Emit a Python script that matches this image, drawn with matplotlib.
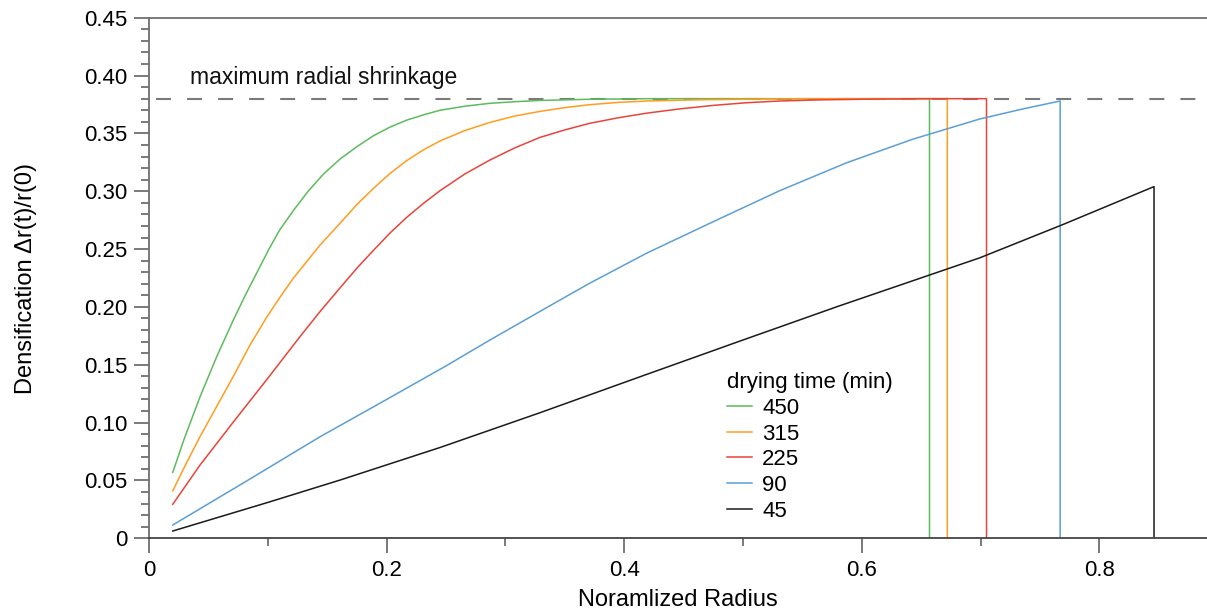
import numpy as np
import matplotlib
matplotlib.use("Agg")
import matplotlib.pyplot as plt
from matplotlib.ticker import FixedLocator, FixedFormatter, MultipleLocator

plt.rcParams['font.family'] = ['Liberation Sans', 'DejaVu Sans']

# ---- data ----
labels = ["450", "315", "225", "90", "45"]
colors = ["#5dbb5d", "#ff9d1f", "#e8443a", "#5b9fd4", "#1a1a1a"]

x_450 = [0.02, 0.03, 0.043, 0.057, 0.071, 0.082, 0.092, 0.101, 0.110, 0.122, 0.134, 0.147,
         0.161, 0.175, 0.189, 0.203, 0.217, 0.231, 0.245, 0.266, 0.287, 0.31, 0.33, 0.371,
         0.42, 0.657]
y_450 = [0.057, 0.087, 0.1224, 0.157, 0.1887, 0.212, 0.232, 0.250, 0.2665, 0.284, 0.300, 0.315,
         0.328, 0.3385, 0.348, 0.3555, 0.3615, 0.366, 0.370, 0.3735, 0.376, 0.3775, 0.3785, 0.3795,
         0.380, 0.380]

x_315 = [0.02, 0.03, 0.043, 0.057, 0.071, 0.085, 0.099, 0.111, 0.122, 0.133, 0.144, 0.161,
         0.175, 0.189, 0.203, 0.217, 0.231, 0.245, 0.266, 0.287, 0.308, 0.329, 0.35, 0.371,
         0.395, 0.42, 0.46, 0.5, 0.55, 0.672]
y_315 = [0.041, 0.062, 0.088, 0.114, 0.140, 0.167, 0.191, 0.2095, 0.2255, 0.2395, 0.2535, 0.2725,
         0.2885, 0.3025, 0.3155, 0.3265, 0.3358, 0.3435, 0.3525, 0.3595, 0.365, 0.369, 0.3723, 0.3748,
         0.3768, 0.378, 0.379, 0.3795, 0.380, 0.380]

x_225 = [0.02, 0.043, 0.071, 0.099, 0.127, 0.144, 0.16, 0.175, 0.189, 0.203, 0.217, 0.231,
         0.245, 0.266, 0.287, 0.308, 0.329, 0.35, 0.371, 0.395, 0.419, 0.447, 0.475, 0.503,
         0.531, 0.565, 0.6, 0.65, 0.705]
y_225 = [0.0294, 0.0634, 0.1005, 0.137, 0.1742, 0.196, 0.2155, 0.2335, 0.249, 0.264, 0.2775, 0.2895,
         0.3005, 0.315, 0.327, 0.3375, 0.3465, 0.353, 0.3587, 0.3635, 0.3675, 0.3712, 0.3742, 0.3765,
         0.378, 0.379, 0.3795, 0.380, 0.380]

x_90 = [0.02, 0.0836, 0.144, 0.2, 0.25, 0.287, 0.346, 0.371, 0.419, 0.475, 0.531, 0.587,
        0.643, 0.6995, 0.735, 0.767]
y_90 = [0.0115, 0.0504, 0.0878, 0.120, 0.149, 0.1714, 0.206, 0.2205, 0.2465, 0.2737, 0.3005, 0.3245,
        0.345, 0.3625, 0.371, 0.378]

x_45 = [0.02, 0.1, 0.161, 0.245, 0.329, 0.413, 0.4975, 0.58, 0.6995, 0.77, 0.846]
y_45 = [0.0063, 0.031, 0.0504, 0.0785, 0.1085, 0.1395, 0.1705, 0.2005, 0.2425, 0.2715, 0.304]

series_x = [x_450, x_315, x_225, x_90, x_45]
series_y = [y_450, y_315, y_225, y_90, y_45]

max_shrinkage = 0.38

x_ticks = [0, 0.2, 0.4, 0.6, 0.8]
x_ticklabels = ["0", "0.2", "0.4", "0.6", "0.8"]
y_ticks = [0, 0.05, 0.10, 0.15, 0.20, 0.25, 0.30, 0.35, 0.40, 0.45]
y_ticklabels = ["0", "0.05", "0.10", "0.15", "0.20", "0.25", "0.30", "0.35", "0.40", "0.45"]

# ---- figure ----
fig = plt.figure(figsize=(12.07, 6.11), dpi=100)
ax = fig.add_axes([149/1207, 72.7/611, (1207-149)/1207, (538.3-17.7)/611])

spine_col = "#707070"
ax.axhline(max_shrinkage, xmin=0.007, xmax=1.0, color="#7a7a7a", lw=1.5,
           dashes=(7.2, 7.7), zorder=1)
ax.text(0.0345, 0.398, "maximum radial shrinkage", fontsize=16.5,
        va="center", ha="left", color="#111111")

for xs, ys, c, lab in zip(series_x, series_y, colors, labels):
    xx = np.append(xs, xs[-1])
    yy = np.append(ys, 0.0)
    ax.plot(xx, yy, color=c, lw=1.1, label=lab, zorder=2)

ax.set_xlim(0, 0.8906)
ax.set_ylim(0, 0.45)

ax.xaxis.set_major_locator(FixedLocator(x_ticks))
ax.xaxis.set_major_formatter(FixedFormatter(x_ticklabels))
ax.xaxis.set_minor_locator(MultipleLocator(0.1))
ax.yaxis.set_major_locator(FixedLocator(y_ticks))
ax.yaxis.set_major_formatter(FixedFormatter(y_ticklabels))
ax.yaxis.set_minor_locator(MultipleLocator(0.01))

ax.tick_params(axis="both", which="major", direction="out", length=10.5, width=1.3,
               color=spine_col, labelsize=16, pad=5)
ax.tick_params(axis="x", which="minor", direction="out", length=6, width=1.3, color=spine_col)
ax.tick_params(axis="y", which="minor", direction="out", length=5.5, width=1.3, color=spine_col)

for side in ["left", "top", "bottom"]:
    ax.spines[side].set_color(spine_col)
    ax.spines[side].set_linewidth(1.3)
ax.spines["right"].set_visible(False)
ax.spines["bottom"].set_color("#444444")

ax.set_xlabel("Noramlized Radius", fontsize=17, labelpad=6)
ax.set_ylabel("Densification \u0394r(t)/r(0)", fontsize=17, labelpad=34)

leg = ax.legend(title="drying time (min)", loc="upper left",
                bbox_to_anchor=(0.546, 0.319), frameon=False, fontsize=16,
                title_fontsize=16, handlelength=1.15, handletextpad=0.45,
                labelspacing=0.21, borderpad=0, borderaxespad=0, alignment="left")

fig.savefig("out.png", dpi=100)
